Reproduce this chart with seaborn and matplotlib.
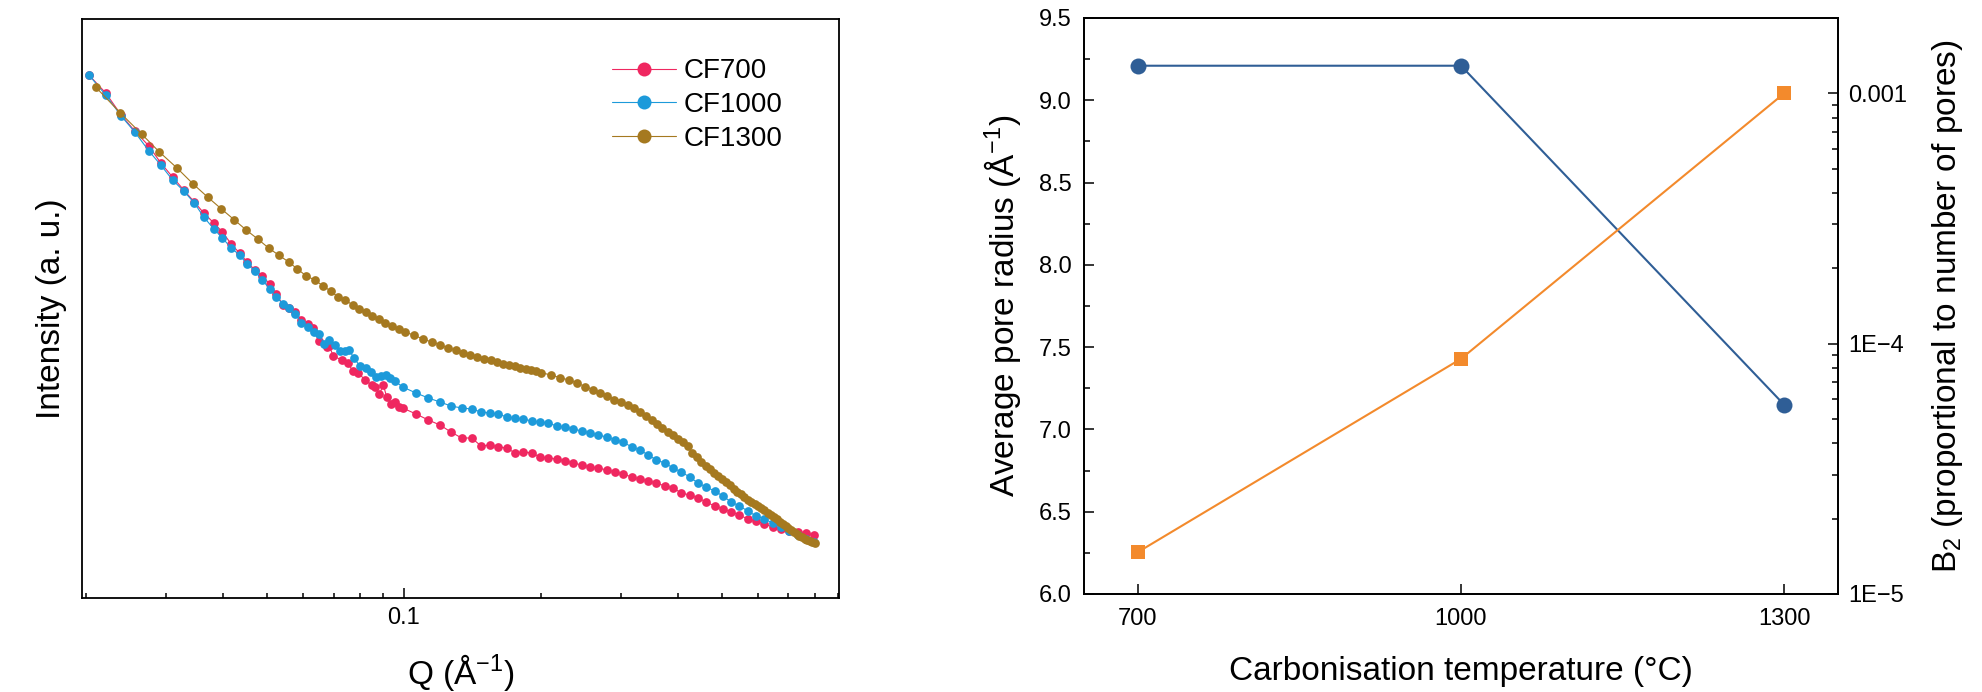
import numpy as np
import pandas as pd
import matplotlib
matplotlib.use("Agg")
import matplotlib.pyplot as plt
import seaborn as sns
from matplotlib.ticker import (FixedLocator, FixedFormatter, LogLocator,
                               NullFormatter, MultipleLocator, FormatStrFormatter)

# ================================
# Data: SAXS curves (left panel)
# ================================
q_cf700 = [0.0203, 0.0221, 0.0239, 0.0256, 0.0275, 0.0292, 0.0310, 0.0328, 0.0346, 0.0363,
           0.0382, 0.0399, 0.0417, 0.0435, 0.0452, 0.0470, 0.0488, 0.0507, 0.0524, 0.0542,
           0.0560, 0.0577, 0.0595, 0.0614, 0.0632, 0.0649, 0.0676, 0.0685, 0.0699, 0.0730,
           0.0754, 0.0771, 0.0794, 0.0821, 0.0849, 0.0864, 0.0883, 0.0901, 0.0916, 0.0935,
           0.0955, 0.0977, 0.0993, 0.1063, 0.1131, 0.1200, 0.1268, 0.1339, 0.1409, 0.1477,
           0.1545, 0.1612, 0.1682, 0.1754, 0.1829, 0.1909, 0.1991, 0.2076, 0.2166, 0.2259,
           0.2356, 0.2459, 0.2564, 0.2673, 0.2789, 0.2909, 0.3034, 0.3164, 0.3300, 0.3441,
           0.3589, 0.3743, 0.3903, 0.4071, 0.4245, 0.4427, 0.4617, 0.4815, 0.5022, 0.5237,
           0.5462, 0.5696, 0.5941, 0.6196, 0.6462, 0.6739, 0.7028, 0.7329, 0.7644, 0.7972]
i_cf700 = [52.3, 50.5, 48.3, 46.7, 45.2, 43.5, 42.1, 40.8, 39.6, 38.5,
           37.5, 36.6, 35.4, 34.5, 33.6, 32.8, 32.2, 31.4, 30.4, 29.3,
           29.0, 28.6, 27.8, 27.4, 27.0, 25.7, 25.1, 25.2, 24.2, 23.8,
           23.5, 22.7, 22.5, 21.8, 21.3, 21.1, 20.4, 21.3, 20.1, 19.4,
           19.6, 19.1, 19.0, 18.4, 17.8, 17.3, 16.6, 16.0, 16.0, 15.2,
           15.3, 15.1, 15.0, 14.5, 14.6, 14.5, 14.1, 14.0, 13.9, 13.7,
           13.5, 13.3, 13.1, 13.0, 12.8, 12.6, 12.4, 12.1, 11.9, 11.7,
           11.5, 11.2, 11.0, 10.5, 10.3, 10.0, 9.6, 9.2, 8.9, 8.6,
           8.3, 7.9, 7.7, 7.4, 7.1, 6.9, 6.7, 6.6, 6.5, 6.3]

q_cf1000 = [0.0203, 0.0221, 0.0239, 0.0256, 0.0275, 0.0292, 0.0310, 0.0328, 0.0346, 0.0363,
            0.0382, 0.0399, 0.0417, 0.0435, 0.0452, 0.0470, 0.0488, 0.0507, 0.0524, 0.0542,
            0.0560, 0.0577, 0.0595, 0.0614, 0.0633, 0.0649, 0.0668, 0.0685, 0.0705, 0.0723,
            0.0742, 0.0758, 0.0776, 0.0800, 0.0825, 0.0845, 0.0868, 0.0889, 0.0913, 0.0932,
            0.0955, 0.0993, 0.1063, 0.1131, 0.1200, 0.1268, 0.1339, 0.1409, 0.1477, 0.1545,
            0.1612, 0.1682, 0.1754, 0.1829, 0.1909, 0.1991, 0.2076, 0.2166, 0.2259, 0.2356,
            0.2459, 0.2564, 0.2673, 0.2789, 0.2909, 0.3034, 0.3164, 0.3300, 0.3441, 0.3589,
            0.3743, 0.3903, 0.4071, 0.4245, 0.4427, 0.4617, 0.4815, 0.5022, 0.5237, 0.5462,
            0.5696, 0.5941, 0.6196, 0.6462, 0.6739, 0.7028, 0.7329, 0.7644, 0.7972]
i_cf1000 = [52.3, 50.3, 48.2, 46.6, 44.7, 43.3, 41.8, 40.7, 39.5, 38.1,
            36.9, 36.0, 35.0, 34.3, 33.4, 32.7, 31.8, 30.9, 30.1, 29.4,
            29.0, 28.4, 27.5, 27.1, 26.6, 26.4, 25.4, 25.8, 25.3, 24.7,
            24.7, 24.8, 24.0, 23.2, 23.0, 22.6, 22.1, 22.2, 22.3, 22.0,
            21.7, 21.1, 20.5, 20.0, 19.6, 19.2, 19.0, 18.9, 18.6, 18.5,
            18.4, 18.1, 18.0, 17.9, 17.7, 17.6, 17.5, 17.2, 17.1, 16.9,
            16.7, 16.5, 16.3, 16.1, 15.8, 15.6, 15.1, 14.8, 14.3, 13.8,
            13.5, 13.0, 12.6, 12.1, 11.5, 11.1, 10.7, 10.2, 9.6, 9.2,
            8.7, 8.2, 7.9, 7.5, 7.1, 6.7, 6.3, 5.9, 5.6]

q_cf1300 = [0.0210, 0.0238, 0.0265, 0.0290, 0.0317, 0.0344, 0.0370, 0.0397, 0.0424, 0.0450,
            0.0477, 0.0504, 0.0530, 0.0558, 0.0583, 0.0610, 0.0637, 0.0664, 0.0690, 0.0716,
            0.0743, 0.0771, 0.0798, 0.0825, 0.0850, 0.0880, 0.0910, 0.0941, 0.0974, 0.1003,
            0.105, 0.110, 0.115, 0.120, 0.125, 0.130, 0.135, 0.140, 0.145, 0.150,
            0.155, 0.160, 0.165, 0.170, 0.175, 0.180, 0.185, 0.190, 0.195, 0.200,
            0.21, 0.22, 0.23, 0.24, 0.25, 0.26, 0.27, 0.28, 0.29, 0.30,
            0.31, 0.32, 0.33, 0.34, 0.35, 0.36, 0.37, 0.38, 0.39, 0.40,
            0.41, 0.42, 0.43, 0.44, 0.45, 0.46, 0.47, 0.48, 0.49, 0.50,
            0.51, 0.52, 0.53, 0.54, 0.55, 0.56, 0.57, 0.58, 0.59, 0.60,
            0.61, 0.62, 0.63, 0.64, 0.65, 0.66, 0.67, 0.68, 0.69, 0.70,
            0.71, 0.72, 0.73, 0.74, 0.75, 0.76, 0.77, 0.78, 0.79, 0.80]
i_cf1300 = [51.1, 48.5, 46.4, 44.6, 43.0, 41.4, 40.1, 38.9, 37.8, 36.8,
            35.9, 35.0, 34.3, 33.6, 32.9, 32.2, 31.8, 31.2, 30.7, 30.1,
            29.8, 29.3, 28.9, 28.6, 28.2, 27.9, 27.5, 27.2, 26.9, 26.6,
            26.3, 25.9, 25.6, 25.3, 25.0, 24.8, 24.5, 24.3, 24.1, 23.9,
            23.8, 23.6, 23.4, 23.3, 23.2, 23.05, 22.9, 22.8, 22.7, 22.55,
            22.3, 22.05, 21.8, 21.5, 21.15, 20.85, 20.55, 20.25, 19.85, 19.6,
            19.3, 19.0, 18.6, 18.2, 17.8, 17.4, 17.05, 16.65, 16.3, 15.9,
            15.6, 15.2, 14.5, 14.1, 13.65, 13.25, 12.9, 12.5, 12.25, 11.95,
            11.6, 11.3, 10.95, 10.65, 10.4, 10.1, 9.85, 9.65, 9.4, 9.2,
            9.0, 8.8, 8.55, 8.35, 8.1, 7.9, 7.65, 7.45, 7.2, 7.0,
            6.8, 6.6, 6.45, 6.25, 6.1, 5.95, 5.85, 5.75, 5.65, 5.55]

samples = ["CF700", "CF1000", "CF1300"]
saxs_colors = ["#EF2760", "#1D9ADA", "#A57920"]

# ================================
# Data: pore analysis (right panel)
# ================================
temps = [700, 1000, 1300]
pore_radius = [9.21, 9.21, 7.15]
b2_values = [1.47e-5, 8.7e-5, 1.0e-3]

# ================================
# Style
# ================================
sns.set_theme(style="ticks")
plt.rcParams["font.family"] = ["Liberation Sans", "DejaVu Sans"]
plt.rcParams["mathtext.fontset"] = "custom"
plt.rcParams["mathtext.rm"] = "Liberation Sans"
plt.rcParams["mathtext.it"] = "Liberation Sans:italic"
plt.rcParams["axes.linewidth"] = 1.3
plt.rcParams["axes.edgecolor"] = "black"
plt.rcParams["xtick.color"] = "black"
plt.rcParams["ytick.color"] = "black"
plt.rcParams["text.color"] = "black"
plt.rcParams["axes.labelcolor"] = "black"

fig = plt.figure(figsize=(19.83, 6.92), dpi=100)
ax1 = fig.add_axes([82 / 1983, 94 / 692, 757 / 1983, 579 / 692])
ax2 = fig.add_axes([1084 / 1983, 98 / 692, 754 / 1983, 576 / 692])

# ================================
# Left panel: SAXS intensity
# ================================
df_saxs = pd.concat([
    pd.DataFrame({"Q": q_cf700, "I": i_cf700, "sample": "CF700"}),
    pd.DataFrame({"Q": q_cf1000, "I": i_cf1000, "sample": "CF1000"}),
    pd.DataFrame({"Q": q_cf1300, "I": i_cf1300, "sample": "CF1300"}),
], ignore_index=True)

sns.lineplot(data=df_saxs, x="Q", y="I", hue="sample", hue_order=samples,
             palette=saxs_colors, marker="o", markersize=6.3, markeredgewidth=0,
             linewidth=0.8, estimator=None, sort=False, legend=False, ax=ax1)

ax1.set_xscale("log")
ax1.set_xlim(0.0196, 0.904)
ax1.set_ylim(0, 57.9)
ax1.xaxis.set_major_locator(FixedLocator([0.1]))
ax1.xaxis.set_major_formatter(FixedFormatter(["0.1"]))
ax1.xaxis.set_minor_locator(LogLocator(base=10, subs=np.arange(2, 10) * 1.0, numticks=20))
ax1.xaxis.set_minor_formatter(NullFormatter())
ax1.set_yticks([])
ax1.tick_params(axis="x", which="major", direction="in", length=7.2, width=1.1,
                labelsize=17, pad=6.8, top=False)
ax1.tick_params(axis="x", which="minor", direction="in", length=3.6, width=1.1, top=False)
ax1.set_xlabel("Q (Å$^{-1}$)", fontsize=24)
ax1.set_ylabel("Intensity (a. u.)", fontsize=24)
ax1.xaxis.set_label_coords(0.5, -0.093)
ax1.yaxis.set_label_coords(-0.020, 0.5)

ax1.legend(handles=ax1.lines[:3], labels=samples, loc="upper left",
           bbox_to_anchor=(0.700, 0.932), frameon=False, fontsize=20,
           markerscale=1.6, handlelength=2.3, handletextpad=0.3,
           labelspacing=0.28, borderpad=0, borderaxespad=0)

# ================================
# Right panel: pore radius and B2
# ================================
sns.lineplot(x=temps, y=pore_radius, color="#2F5E96", marker="o", markersize=11.5,
             markeredgewidth=0, linewidth=1.5, ax=ax2)
ax3 = ax2.twinx()
sns.lineplot(x=temps, y=b2_values, color="#F38A2C", marker="s", markersize=10.5,
             markeredgewidth=0, linewidth=1.5, ax=ax3)

ax2.set_xlim(650, 1350)
ax2.set_ylim(6.0, 9.5)
ax2.set_xticks(temps)
ax2.set_xticklabels([str(t) for t in temps])
ax2.yaxis.set_major_locator(MultipleLocator(0.5))
ax2.yaxis.set_minor_locator(MultipleLocator(0.25))
ax2.yaxis.set_major_formatter(FormatStrFormatter("%.1f"))
ax2.tick_params(axis="x", which="major", direction="in", length=7.2, width=1.1,
                labelsize=17, pad=10.4, top=False)
ax2.tick_params(axis="y", which="major", direction="in", length=7.2, width=1.1,
                labelsize=17, pad=8.6, right=False)
ax2.tick_params(axis="y", which="minor", direction="in", length=4.3, width=1.1, right=False)

ax3.set_yscale("log")
ax3.set_ylim(1e-5, 2e-3)
ax3.yaxis.set_major_locator(FixedLocator([1e-5, 1e-4, 1e-3]))
ax3.yaxis.set_major_formatter(FixedFormatter(["1E\u22125", "1E\u22124", "0.001"]))
ax3.yaxis.set_minor_locator(LogLocator(base=10, subs=np.arange(2, 10) * 1.0, numticks=20))
ax3.yaxis.set_minor_formatter(NullFormatter())
ax3.tick_params(axis="y", which="major", direction="in", length=7.2, width=1.1,
                labelsize=17, pad=7.2)
ax3.tick_params(axis="y", which="minor", direction="in", length=4.3, width=1.1)

ax2.set_xlabel("Carbonisation temperature (°C)", fontsize=24)
ax2.set_ylabel("Average pore radius (Å$^{-1}$)", fontsize=24)
ax3.set_ylabel("B$_2$ (proportional to number of pores)", fontsize=24)
ax2.xaxis.set_label_coords(0.5, -0.108)
ax2.yaxis.set_label_coords(-0.081, 0.5)
ax3.yaxis.set_label_coords(1.122, 0.5)

fig.savefig("out.png", dpi=100)
